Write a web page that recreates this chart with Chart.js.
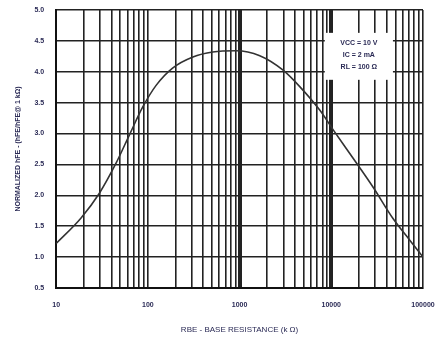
<!DOCTYPE html>
<html>
<head>
<meta charset="utf-8">
<script src="https://cdn.jsdelivr.net/npm/chart.js"></script>
<style>
  html, body { margin: 0; padding: 0; background: #fff; }
  #wrap { width: 440px; height: 341px; }
</style>
</head>
<body>
<div id="wrap"><canvas id="hfeChart"></canvas></div>
<script>
// base resistance (k ohm) and normalized hFE
var resistance = [10, 18.6, 29.5, 45, 63, 88, 123, 186, 310, 510, 915, 1660, 2960, 4530, 7480, 10500, 17300, 28600, 47300, 72100, 100000];
var normHfe = [1.22, 1.63, 2.03, 2.52, 2.98, 3.43, 3.78, 4.06, 4.24, 4.32, 4.34, 4.26, 4.03, 3.76, 3.38, 3.06, 2.6, 2.13, 1.62, 1.27, 1.0];
var xTickLabels = ['10', '100', '1000', '10000', '100000'];
var yTicks = [0.5, 1.0, 1.5, 2.0, 2.5, 3.0, 3.5, 4.0, 4.5, 5.0];
var boxLines = ['VCC = 10 V', 'IC = 2 mA', 'RL = 100 Ω'];

var points = resistance.map(function (r, i) { return { x: r, y: normHfe[i] }; });

var tickFont = { family: "'Liberation Sans', Arial, sans-serif", size: 7, weight: 'bold' };

// drop the extra room chart.js keeps for edge labels, layout.padding decides it
function noEdgePadding(s) {
    s.paddingTop = 0; s.paddingBottom = 0; s.paddingLeft = 0; s.paddingRight = 0;
}

// white box with test conditions, top right of the grid
var conditionBox = {
    id: 'conditionBox',
    beforeDatasetsDraw: function (chart) {
        var ctx = chart.ctx, xs = chart.scales.x, ys = chart.scales.y;
        var x0 = xs.getPixelForValue(8500), x1 = xs.getPixelForValue(47000);
        var y0 = ys.getPixelForValue(4.63), y1 = ys.getPixelForValue(3.87);
        ctx.save();
        ctx.fillStyle = '#fff';
        ctx.fillRect(x0, y0, x1 - x0, y1 - y0);
        ctx.fillStyle = '#2a2a55';
        ctx.font = "bold 7px 'Liberation Sans', Arial, sans-serif";
        ctx.textAlign = 'center';
        ctx.textBaseline = 'middle';
        var cx = (x0 + x1) / 2;
        boxLines.forEach(function (t, i) {
            ctx.fillText(t, cx, y0 + 10 + i * 12);
        });
        ctx.restore();
    }
};

new Chart(document.getElementById('hfeChart'), {
    type: 'line',
    data: {
        datasets: [{
            data: points,
            borderColor: '#333',
            borderWidth: 1.6,
            pointRadius: 0,
            cubicInterpolationMode: 'monotone',
            fill: false
        }]
    },
    options: {
        responsive: true,
        maintainAspectRatio: false,
        animation: false,
        layout: { padding: { top: 10, right: 17, left: 14, bottom: 2 } },
        plugins: { legend: { display: false }, tooltip: { enabled: false } },
        scales: {
            x: {
                type: 'logarithmic',
                min: 10,
                max: 100000,
                afterBuildTicks: function (axis) {
                    var t = [];
                    for (var e = 1; e <= 5; e++) {
                        for (var s = 1; s <= 9; s++) {
                            var v = s * Math.pow(10, e);
                            if (v <= 100000) t.push({ value: v });
                        }
                    }
                    axis.ticks = t;
                },
                afterFit: noEdgePadding,
                ticks: {
                    autoSkip: false,
                    maxRotation: 0,
                    minRotation: 0,
                    padding: 13,
                    color: '#2a2a55',
                    font: tickFont,
                    callback: function (v) {
                        var i = Math.round(Math.log10(v)) - 1;
                        return Math.abs(Math.log10(v) - Math.round(Math.log10(v))) < 1e-6 ? xTickLabels[i] : '';
                    }
                },
                grid: {
                    color: '#222',
                    drawTicks: false,
                    lineWidth: function (c) {
                        var v = c.tick ? c.tick.value : 0;
                        return (v === 1000 || v === 10000) ? 4 : 1.6;
                    }
                },
                border: { color: '#111', width: 2 },
                title: {
                    display: true,
                    text: 'RBE - BASE RESISTANCE (k Ω)',
                    color: '#2a2a55',
                    font: { family: "'Liberation Sans', Arial, sans-serif", size: 8 },
                    padding: { top: 3 }
                }
            },
            y: {
                min: 0.5,
                max: 5.0,
                afterBuildTicks: function (axis) {
                    axis.ticks = yTicks.map(function (v) { return { value: v }; });
                },
                afterFit: noEdgePadding,
                ticks: {
                    padding: 12,
                    color: '#2a2a55',
                    font: tickFont,
                    callback: function (v) { return v.toFixed(1); }
                },
                grid: { color: '#222', lineWidth: 1.6, drawTicks: false },
                border: { color: '#111', width: 2 },
                title: {
                    display: true,
                    text: 'NORMALIZED hFE - (hFE/hFE@ 1 kΩ)',
                    color: '#2a2a55',
                    font: { family: "'Liberation Sans', Arial, sans-serif", size: 7, weight: 'bold' },
                    padding: 0
                }
            }
        }
    },
    plugins: [conditionBox]
});
</script>
</body>
</html>
